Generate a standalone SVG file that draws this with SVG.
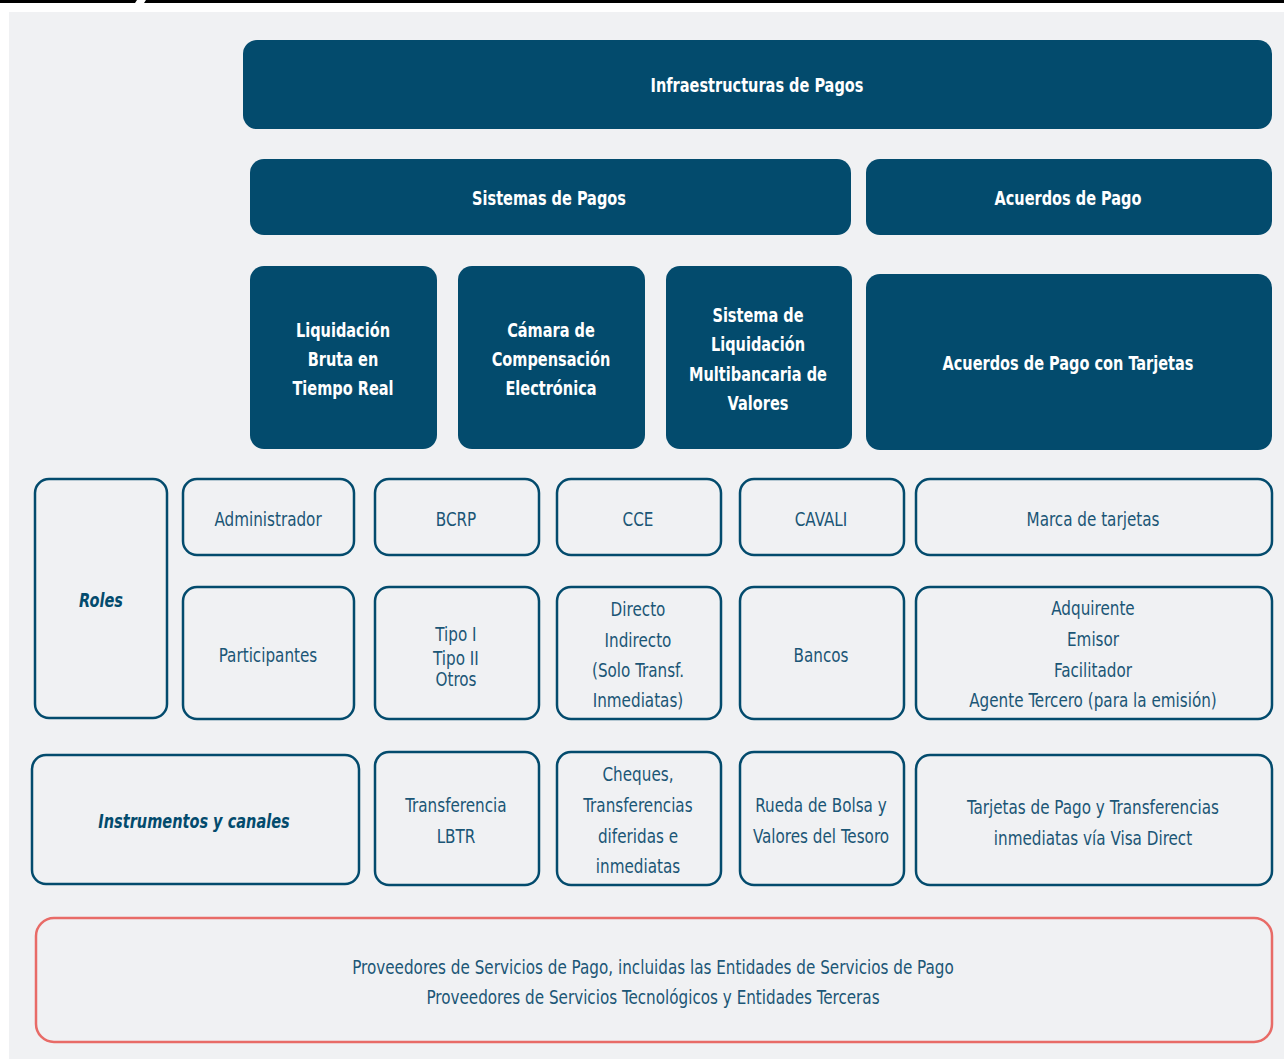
<svg xmlns="http://www.w3.org/2000/svg" width="1284" height="1059" viewBox="0 0 1284 1059">
<style>
.fill{fill:#034b6d;}
.out{fill:none;stroke:#034b6d;stroke-width:2.5;}
.red{fill:none;stroke:#e86b67;stroke-width:2.5;}
text{font-family:"Liberation Sans Narrow","DejaVu Sans Condensed","Liberation Sans",sans-serif;text-anchor:middle;dominant-baseline:central;transform-box:fill-box;transform-origin:center;}
.h{fill:#ffffff;font-weight:bold;font-size:19px;transform:translateY(1px) scaleX(0.85);}
.t{fill:#1b5676;font-size:19px;transform:translateY(1px) scaleX(0.89);}
.l{fill:#034b6d;font-weight:bold;font-style:italic;font-size:19px;transform:translateY(1px) scaleX(0.85);}
</style>
<rect x="0" y="0" width="1284" height="1059" fill="#ffffff"/>
<rect x="9" y="12" width="1275" height="1047" fill="#f0f1f3"/>
<polygon points="0,0 137,0 135,3 0,3" fill="#000"/>
<polygon points="146,0 1284,0 1284,3 144,3" fill="#000"/>

<g id="infraestructuras"><rect class="fill" x="243" y="40" width="1029" height="89" rx="14"/><text class="h" x="757" y="85">Infraestructuras de Pagos</text></g>
<g id="sistemas"><rect class="fill" x="250" y="159" width="601" height="76" rx="14"/><text class="h" x="549" y="198">Sistemas de Pagos</text></g>
<g id="acuerdos"><rect class="fill" x="866" y="159" width="406" height="76" rx="14"/><text class="h" x="1068" y="198">Acuerdos de Pago</text></g>

<g id="lbtr"><rect class="fill" x="250" y="266" width="187" height="183" rx="14"/><text class="h" x="343" y="330">Liquidación</text><text class="h" x="343" y="359">Bruta en</text><text class="h" x="343" y="388">Tiempo Real</text></g>
<g id="cce-sys"><rect class="fill" x="458" y="266" width="187" height="183" rx="14"/><text class="h" x="551" y="330">Cámara de</text><text class="h" x="551" y="359">Compensación</text><text class="h" x="551" y="388">Electrónica</text></g>
<g id="slmv"><rect class="fill" x="666" y="266" width="186" height="183" rx="14"/><text class="h" x="758" y="315">Sistema de</text><text class="h" x="758" y="344">Liquidación</text><text class="h" x="758" y="374">Multibancaria de</text><text class="h" x="758" y="403">Valores</text></g>
<g id="tarjetas-acuerdos"><rect class="fill" x="866" y="274" width="406" height="176" rx="14"/><text class="h" x="1068" y="363">Acuerdos de Pago con Tarjetas</text></g>

<g id="roles"><rect class="out" x="35" y="479" width="132" height="239" rx="14"/><text class="l" x="101" y="600">Roles</text></g>
<g id="administrador"><rect class="out" x="183" y="479" width="171" height="76" rx="14"/><text class="t" x="268" y="518">Administrador</text></g>
<g id="bcrp"><rect class="out" x="375" y="479" width="164" height="76" rx="14"/><text class="t" x="456" y="518">BCRP</text></g>
<g id="cce"><rect class="out" x="557" y="479" width="164" height="76" rx="14"/><text class="t" x="638" y="518">CCE</text></g>
<g id="cavali"><rect class="out" x="740" y="479" width="164" height="76" rx="14"/><text class="t" x="821" y="518">CAVALI</text></g>
<g id="marca"><rect class="out" x="916" y="479" width="356" height="76" rx="14"/><text class="t" x="1093" y="518">Marca de tarjetas</text></g>

<g id="participantes"><rect class="out" x="183" y="587" width="171" height="132" rx="14"/><text class="t" x="268" y="654">Participantes</text></g>
<g id="tipos"><rect class="out" x="375" y="587" width="164" height="132" rx="14"/><text class="t" x="456" y="633">Tipo I</text><text class="t" x="456" y="657">Tipo II</text><text class="t" x="456" y="678">Otros</text></g>
<g id="directo"><rect class="out" x="557" y="587" width="164" height="132" rx="14"/><text class="t" x="638" y="608">Directo</text><text class="t" x="638" y="639">Indirecto</text><text class="t" x="638" y="669">(Solo Transf.</text><text class="t" x="638" y="699">Inmediatas)</text></g>
<g id="bancos"><rect class="out" x="740" y="587" width="164" height="132" rx="14"/><text class="t" x="821" y="654">Bancos</text></g>
<g id="adquirente"><rect class="out" x="916" y="587" width="356" height="132" rx="14"/><text class="t" x="1093" y="607">Adquirente</text><text class="t" x="1093" y="638">Emisor</text><text class="t" x="1093" y="669">Facilitador</text><text class="t" x="1093" y="699">Agente Tercero (para la emisión)</text></g>

<g id="instrumentos"><rect class="out" x="32" y="755" width="327" height="129" rx="14"/><text class="l" x="194" y="821">Instrumentos y canales</text></g>
<g id="transferencia"><rect class="out" x="375" y="752" width="164" height="133" rx="14"/><text class="t" x="456" y="804">Transferencia</text><text class="t" x="456" y="835">LBTR</text></g>
<g id="cheques"><rect class="out" x="557" y="752" width="164" height="133" rx="14"/><text class="t" x="638" y="773">Cheques,</text><text class="t" x="638" y="804">Transferencias</text><text class="t" x="638" y="835">diferidas e</text><text class="t" x="638" y="865">inmediatas</text></g>
<g id="rueda"><rect class="out" x="740" y="752" width="164" height="133" rx="14"/><text class="t" x="821" y="804">Rueda de Bolsa y</text><text class="t" x="821" y="835">Valores del Tesoro</text></g>
<g id="tarjetas-pago"><rect class="out" x="916" y="755" width="356" height="130" rx="14"/><text class="t" x="1093" y="806">Tarjetas de Pago y Transferencias</text><text class="t" x="1093" y="837">inmediatas vía Visa Direct</text></g>

<g id="proveedores"><rect class="red" x="36" y="918" width="1236" height="124" rx="18"/><text class="t" x="653" y="966">Proveedores de Servicios de Pago, incluidas las Entidades de Servicios de Pago</text><text class="t" x="653" y="996">Proveedores de Servicios Tecnológicos y Entidades Terceras</text></g>
<g id="connectors"></g>
</svg>
